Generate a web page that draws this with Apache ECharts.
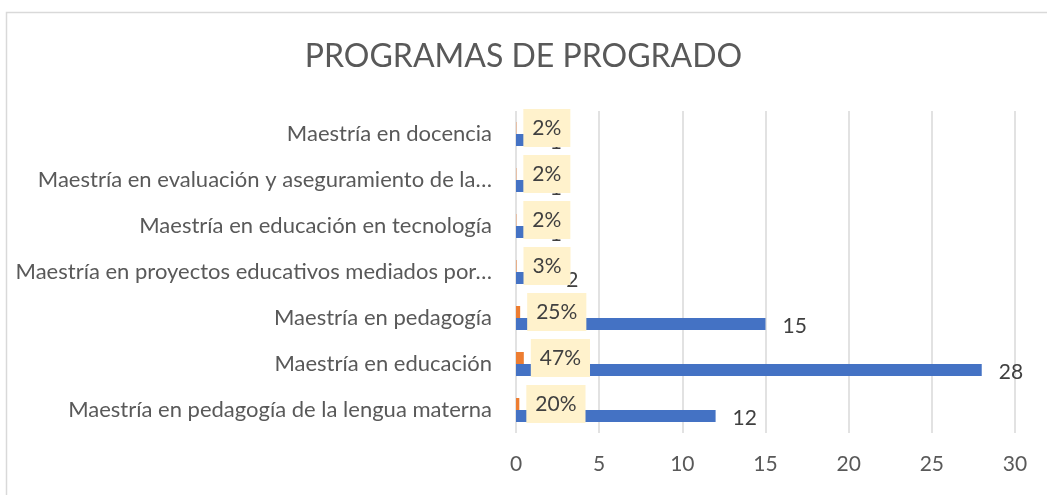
<!DOCTYPE html>
<html>
<head>
<meta charset="utf-8">
<script src="https://cdn.jsdelivr.net/npm/echarts@6/dist/echarts.min.js"></script>
<style>
  html, body { margin: 0; padding: 0; background: #fff; }
  #chart { width: 1047px; height: 495px; }
</style>
</head>
<body>
<div id="chart"></div>
<script>
const categories = [
  'Maestría en pedagogía de la lengua materna',
  'Maestría en educación',
  'Maestría en pedagogía',
  'Maestría en proyectos educativos mediados por…',
  'Maestría en educación en tecnología',
  'Maestría en evaluación y aseguramiento de la…',
  'Maestría en docencia'
]
const counts = [12, 28, 15, 2, 1, 1, 1]
const shares = [0.20, 0.47, 0.25, 0.03, 0.02, 0.02, 0.02]
const xTicks = [0, 5, 10, 15, 20, 25, 30]

const FONT = 'Lato'
const GRAY = '#595959'

const chart = echarts.init(document.getElementById('chart'))

chart.setOption({
  animation: false,
  textStyle: { fontFamily: FONT },
  title: {
    text: 'PROGRAMAS DE PROGRADO',
    left: 'center',
    top: 36,
    textStyle: { fontFamily: FONT, fontSize: 32, fontWeight: 'normal', color: GRAY }
  },
  graphic: [{
    type: 'rect',
    shape: { x: 6.5, y: 12.5, width: 1200, height: 600 },
    style: { fill: 'none', stroke: '#d9d9d9', lineWidth: 1.5 },
    silent: true
  }],
  grid: { left: 516, right: 32, top: 111, bottom: 62 },
  xAxis: {
    type: 'value',
    min: xTicks[0],
    max: xTicks[xTicks.length - 1],
    interval: 5,
    axisLine: { show: false },
    axisTick: { show: false },
    axisLabel: { color: GRAY, fontSize: 21, margin: 21 },
    splitLine: { lineStyle: { color: '#d9d9d9', width: 1.5 } }
  },
  yAxis: {
    type: 'category',
    data: categories,
    axisLine: { show: false },
    axisTick: { show: false },
    axisLabel: { color: GRAY, fontSize: 22, margin: 24 }
  },
  series: [
    {
      name: 'Porcentaje',
      type: 'bar',
      data: shares,
      barWidth: 12,
      barGap: '0%',
      itemStyle: { color: '#ed7d31' },
      label: {
        show: true,
        position: 'right',
        distance: 7,
        color: '#404040',
        fontSize: 21,
        backgroundColor: '#fff2cc',
        padding: [11, 9, 6, 9],
        formatter: p => Math.round(p.value * 100) + '%'
      },
      z: 3
    },
    {
      name: 'Cantidad',
      type: 'bar',
      data: counts,
      barWidth: 12,
      barGap: '0%',
      itemStyle: { color: '#4472c4' },
      label: {
        show: true,
        position: 'right',
        distance: 17,
        color: '#404040',
        fontSize: 21,
        offset: [0, 2]
      },
      z: 2
    }
  ]
})
</script>
</body>
</html>
